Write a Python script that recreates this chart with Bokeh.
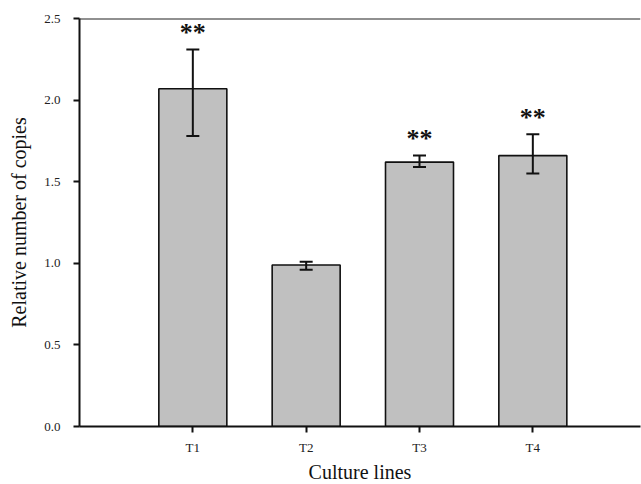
from bokeh.plotting import figure
from bokeh.models import ColumnDataSource, Whisker, TeeHead, FixedTicker, Range1d, Span
from bokeh.core.properties import value
from bokeh.embed import file_html
from bokeh.resources import INLINE

# data
lines = ["T1", "T2", "T3", "T4"]
positions = [1, 2, 3, 4]
copies = [2.07, 0.99, 1.62, 1.66]
err_upper = [2.31, 1.01, 1.66, 1.79]
err_lower = [1.78, 0.96, 1.59, 1.55]
signif = ["**", "", "**", "**"]
y_ticks = [0.0, 0.5, 1.0, 1.5, 2.0, 2.5]

src = ColumnDataSource(dict(x=positions, top=copies, upper=err_upper,
                            lower=err_lower, sig=signif))

SERIF = "Liberation Serif"

p = figure(frame_width=561, frame_height=408, output_backend="svg", toolbar_location=None,
           x_range=Range1d(0, 4.95), y_range=Range1d(0, 2.5),
           min_border_left=79, min_border_right=1, min_border_top=18,
           min_border_bottom=57)
p.outline_line_color = None
p.grid.visible = False
p.background_fill_color = "white"

p.vbar(x="x", top="top", width=0.6, bottom=0, source=src,
       fill_color="#c0c0c0", line_color="#111111", line_width=1.6)

wh = Whisker(base="x", upper="upper", lower="lower", source=src,
             line_color="#111111", line_width=2, level="overlay",
             upper_head=TeeHead(size=13, line_color="#111111", line_width=2),
             lower_head=TeeHead(size=13, line_color="#111111", line_width=2))
p.add_layout(wh)

p.text(x="x", y="upper", text="sig", source=src, text_align="center",
       text_baseline="middle", y_offset=-17,
       text_font=value(SERIF), text_font_style="bold", text_font_size="26px",
       text_color="#111111")

# top border line
p.add_layout(Span(location=2.5, dimension="width", line_color="#222222", line_width=2))

for ax in (p.xaxis, p.yaxis):
    ax.axis_line_color = "#111111"
    ax.axis_line_width = 2
    ax.major_tick_line_color = "#111111"
    ax.major_tick_line_width = 2
    ax.major_tick_in = 0
    ax.major_tick_out = 6
    ax.minor_tick_line_color = None
    ax.major_label_text_font = SERIF
    ax.major_label_text_font_size = "13px"
    ax.major_label_text_color = "#222222"
    ax.axis_label_text_font = SERIF
    ax.axis_label_text_font_style = "normal"
    ax.axis_label_text_font_size = "20px"
    ax.axis_label_text_color = "#111111"

p.xaxis.ticker = FixedTicker(ticks=positions)
p.xaxis.major_label_overrides = {pos: lab for pos, lab in zip(positions, lines)}
p.xaxis.major_label_standoff = 7
p.xaxis.axis_label = "Culture lines"
p.xaxis.axis_label_standoff = 3

p.yaxis.ticker = FixedTicker(ticks=y_ticks)
p.yaxis.major_label_overrides = {t: f"{t:.1f}" for t in y_ticks}
p.yaxis.major_label_standoff = 13
p.yaxis.axis_label = "Relative number of copies"
p.yaxis.axis_label_standoff = 11

open("out.html", "w").write(file_html(p, INLINE))
